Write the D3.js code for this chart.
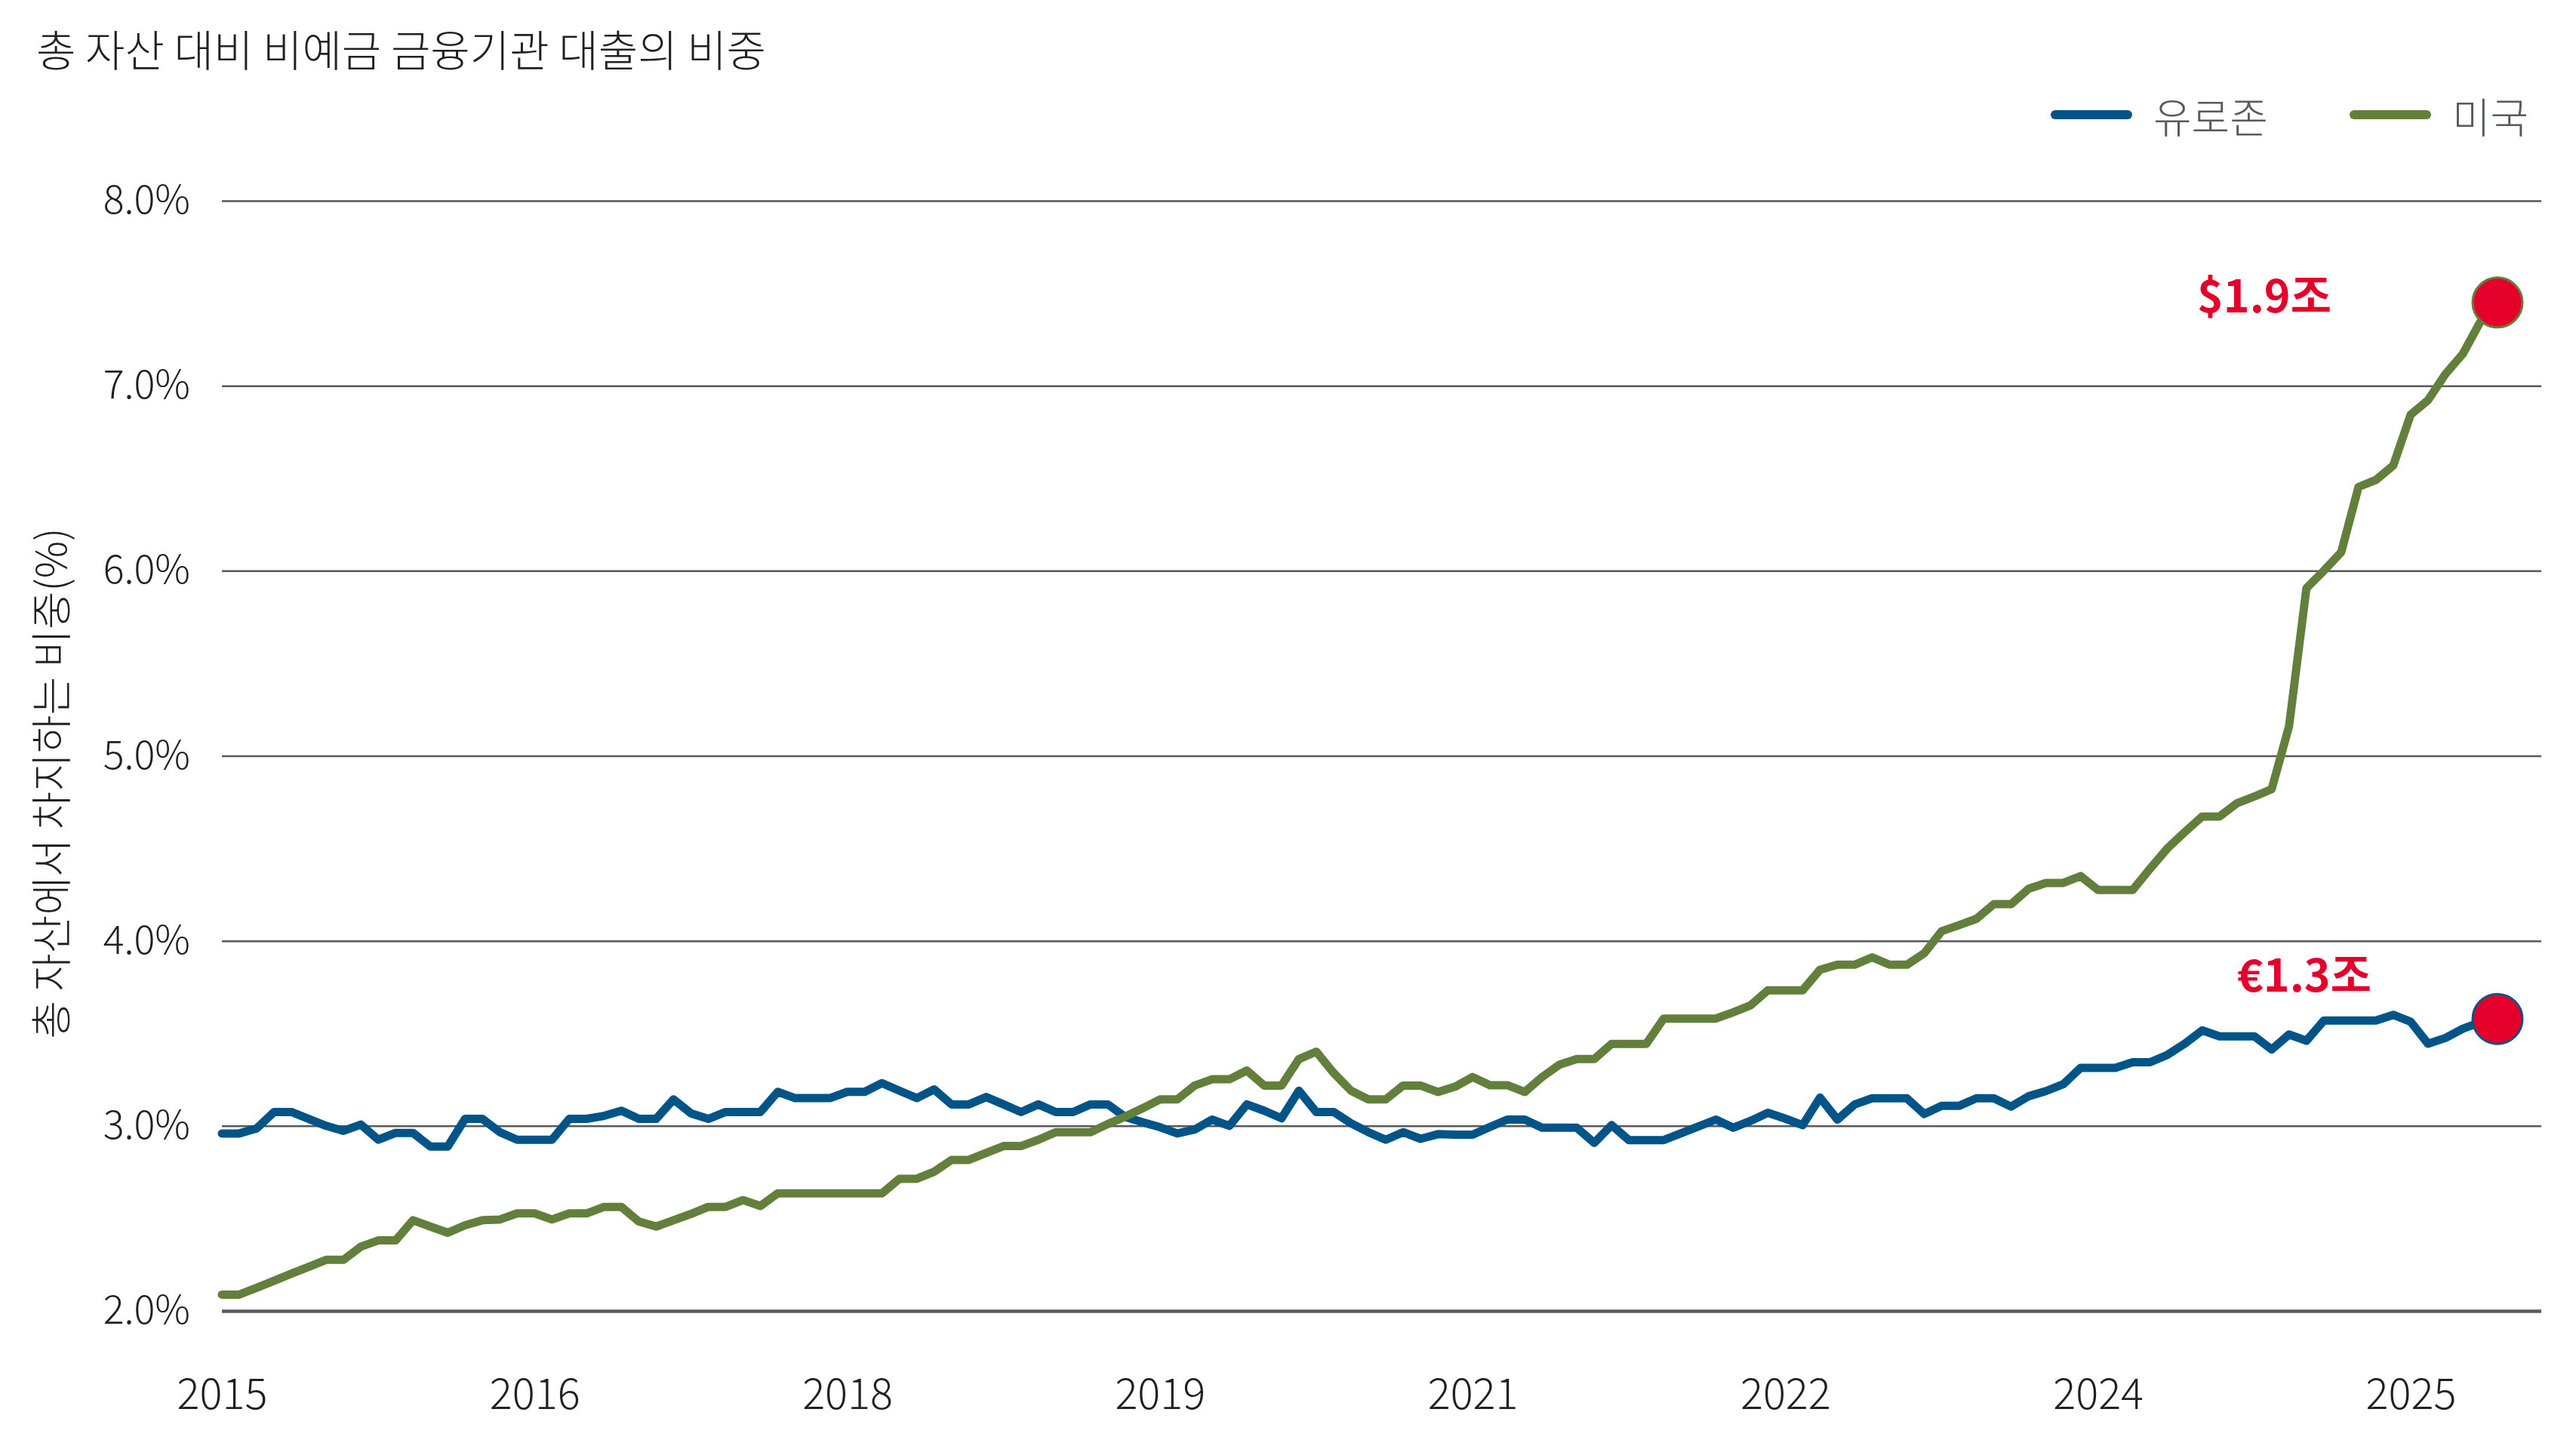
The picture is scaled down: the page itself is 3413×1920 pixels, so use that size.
<!DOCTYPE html>
<html><head><meta charset="utf-8">
<script src="https://cdn.jsdelivr.net/npm/d3@7"></script>
<style>
html,body{margin:0;padding:0;background:#fff;}
svg{display:block;}
text{font-family:"Noto Sans CJK KR","Noto Sans",sans-serif;}
</style></head><body>
<svg id="chart" width="3413" height="1920"></svg>
<script>
const title = "총 자산 대비 비예금 금융기관 대출의 비중";
const yAxisTitle = "총 자산에서 차지하는 비중(%)";
const seriesNames = ["유로존", "미국"];
const seriesColors = ["#005487", "#627f3b"];
const xTickIndex = [0, 18, 36, 54, 72, 90, 108, 126];
const xTickLabels = ["2015", "2016", "2018", "2019", "2021", "2022", "2024", "2025"];
const yTicks = [2, 3, 4, 5, 6, 7, 8];
const endLabels = ["€1.3조", "$1.9조"];

// Eurozone (monthly, %)
const eurozone = [
  2.959, 2.959, 2.986, 3.075, 3.075, 3.038, 3.000, 2.973, 3.007, 2.925,
  2.962, 2.962, 2.888, 2.888, 3.038, 3.038, 2.966, 2.925, 2.925, 2.925,
  3.038, 3.038, 3.054, 3.082, 3.038, 3.038, 3.143, 3.068, 3.038, 3.075,
  3.075, 3.075, 3.184, 3.150, 3.150, 3.150, 3.184, 3.184, 3.231, 3.190,
  3.150, 3.197, 3.116, 3.116, 3.156, 3.116, 3.075, 3.116, 3.075, 3.075,
  3.116, 3.116, 3.048, 3.020, 2.993, 2.959, 2.980, 3.034, 3.000, 3.116,
  3.082, 3.041, 3.190, 3.075, 3.075, 3.014, 2.966, 2.925, 2.966, 2.930,
  2.955, 2.952, 2.952, 2.994, 3.034, 3.034, 2.990, 2.990, 2.990, 2.908,
  3.004, 2.923, 2.923, 2.923, 2.960, 2.997, 3.034, 2.990, 3.027, 3.071,
  3.039, 3.004, 3.153, 3.034, 3.116, 3.149, 3.149, 3.149, 3.064, 3.108,
  3.108, 3.149, 3.149, 3.104, 3.160, 3.188, 3.225, 3.313, 3.313, 3.313,
  3.344, 3.344, 3.384, 3.444, 3.516, 3.484, 3.484, 3.484, 3.413, 3.494,
  3.460, 3.569, 3.569, 3.569, 3.569, 3.600, 3.563, 3.444, 3.475, 3.525,
  3.560, 3.578
];

// United States (monthly, %)
const us = [
  2.088, 2.088, 2.125, 2.163, 2.201, 2.238, 2.276, 2.276, 2.347, 2.381,
  2.381, 2.490, 2.456, 2.422, 2.463, 2.490, 2.494, 2.527, 2.527, 2.494,
  2.527, 2.527, 2.562, 2.562, 2.483, 2.456, 2.490, 2.524, 2.562, 2.562,
  2.599, 2.567, 2.635, 2.635, 2.635, 2.635, 2.635, 2.635, 2.635, 2.714,
  2.714, 2.752, 2.816, 2.816, 2.854, 2.891, 2.891, 2.925, 2.966, 2.966,
  2.966, 3.010, 3.050, 3.095, 3.143, 3.143, 3.218, 3.252, 3.252, 3.299,
  3.218, 3.218, 3.361, 3.401, 3.286, 3.190, 3.143, 3.143, 3.218, 3.218,
  3.183, 3.212, 3.264, 3.220, 3.220, 3.183, 3.264, 3.331, 3.361, 3.361,
  3.443, 3.443, 3.443, 3.580, 3.580, 3.580, 3.580, 3.614, 3.651, 3.733,
  3.733, 3.733, 3.844, 3.871, 3.871, 3.911, 3.871, 3.871, 3.933, 4.052,
  4.085, 4.119, 4.198, 4.198, 4.281, 4.313, 4.313, 4.350, 4.275, 4.275,
  4.275, 4.390, 4.500, 4.588, 4.672, 4.672, 4.744, 4.780, 4.820, 5.160,
  5.906, 6.000, 6.100, 6.453, 6.491, 6.569, 6.844, 6.922, 7.063, 7.172,
  7.344, 7.450
];

const svg = d3.select("#chart");
const plotLeft = 294, plotRight = 3309, gridRight = 3367, plotTop = 266, plotBottom = 1737;
const fontFam = '"Noto Sans CJK KR","Noto Sans",sans-serif';

const x = d3.scaleLinear().domain([0, us.length - 1]).range([plotLeft, plotRight]);
const y = d3.scaleLinear().domain([2, 8]).range([plotBottom, plotTop]);

// Title
svg.append("text").attr("x", 48).attr("y", 88)
  .attr("font-size", 57).attr("font-weight", 300).attr("fill", "#231f20")
  .text(title);

// Y axis with gridlines
const yAxis = d3.axisLeft(y).tickValues(yTicks)
  .tickSize(-(gridRight - plotLeft)).tickPadding(42)
  .tickFormat(d => d3.format(".1f")(d) + "%");
const gy = svg.append("g").attr("transform", `translate(${plotLeft},0)`).call(yAxis);
gy.select(".domain").remove();
gy.selectAll(".tick line").attr("stroke", "#58595b")
  .attr("stroke-width", d => d === 2 ? 4.5 : 2.5);
gy.selectAll(".tick text").attr("font-size", 52).attr("font-weight", 300)
  .attr("fill", "#231f20").attr("font-family", fontFam);

// X axis
const xAxis = d3.axisBottom(x).tickValues(xTickIndex)
  .tickFormat((d, i) => xTickLabels[i]).tickSize(0).tickPadding(90);
const gx = svg.append("g").attr("transform", `translate(0,${plotBottom})`).call(xAxis);
gx.select(".domain").remove();
gx.selectAll(".tick text").attr("font-size", 56).attr("font-weight", 300)
  .attr("fill", "#231f20").attr("font-family", fontFam);

// Y axis title
svg.append("text")
  .attr("transform", "translate(88,1038) rotate(-90)")
  .attr("text-anchor", "middle")
  .attr("font-size", 55).attr("font-weight", 300).attr("fill", "#231f20")
  .text(yAxisTitle);

// Lines
const line = d3.line().x((d, i) => x(i)).y(d => y(d));
const allSeries = [eurozone, us];
allSeries.forEach((s, k) => {
  svg.append("path").datum(s).attr("d", line)
    .attr("fill", "none").attr("stroke", seriesColors[k])
    .attr("stroke-width", 11).attr("stroke-linejoin", "round").attr("stroke-linecap", "round");
});

// End markers
allSeries.forEach((s, k) => {
  svg.append("circle").attr("cx", x(s.length - 1)).attr("cy", y(s[s.length - 1]))
    .attr("r", 33).attr("fill", "#e4002b")
    .attr("stroke", seriesColors[k]).attr("stroke-width", 3);
});

// End labels
const labelOffsets = [[-256, -62], [-309, -12]];
allSeries.forEach((s, k) => {
  svg.append("text")
    .attr("x", x(s.length - 1) + labelOffsets[k][0])
    .attr("y", y(s[s.length - 1]) + labelOffsets[k][1])
    .attr("text-anchor", "middle").attr("dominant-baseline", "central")
    .attr("font-size", 59).attr("font-weight", 700).attr("fill", "#e4002b")
    .text(endLabels[k]);
});

// Legend
const legendX = [2723, 3119];
seriesNames.forEach((n, k) => {
  const g = svg.append("g");
  g.append("line").attr("x1", legendX[k]).attr("x2", legendX[k] + 96)
    .attr("y1", 152).attr("y2", 152)
    .attr("stroke", seriesColors[k]).attr("stroke-width", 12).attr("stroke-linecap", "round");
  g.append("text").attr("x", legendX[k] + 130).attr("y", 152)
    .attr("dominant-baseline", "central")
    .attr("font-size", 55).attr("font-weight", 300).attr("fill", "#58595b")
    .text(n);
});
</script>
</body></html>
